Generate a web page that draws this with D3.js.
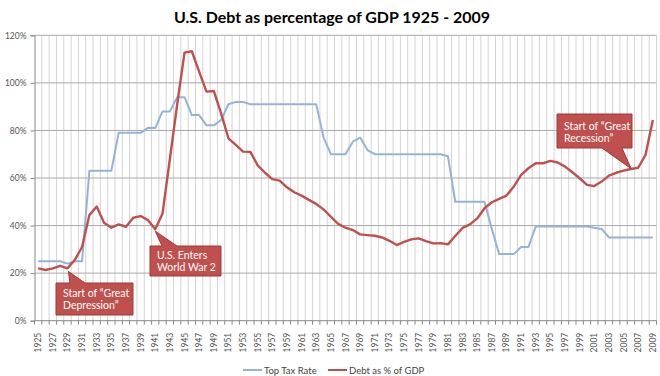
<!DOCTYPE html>
<html>
<head>
<meta charset="utf-8">
<script src="https://cdn.jsdelivr.net/npm/d3@7"></script>
<style>
  html, body { margin: 0; padding: 0; background: #fff; }
  svg { display: block; }
</style>
</head>
<body>
<svg id="chart" width="660" height="376"></svg>
<script>
const years = d3.range(1925, 2010);
const taxRate = [
  25, 25, 25, 25, 24, 25, 25,
  63, 63, 63, 63,
  79, 79, 79, 79,
  81.1, 81, 88, 88, 94, 94, 86.45, 86.45, 82.13, 82.13, 84.36,
  91, 92, 92,
  91, 91, 91, 91, 91, 91, 91, 91, 91, 91,
  77, 70, 70, 70, 75.25, 77, 71.75,
  70, 70, 70, 70, 70, 70, 70, 70, 70, 70,
  69.13,
  50, 50, 50, 50, 50,
  38.5, 28, 28, 28, 31, 31,
  39.6, 39.6, 39.6, 39.6, 39.6, 39.6, 39.6, 39.6,
  39.1, 38.6,
  35, 35, 35, 35, 35, 35, 35
];
const debt = [
  22.0, 21.3, 22.0, 23.1, 22.0, 25.5, 31.0, 44.4, 48.0, 41.2,
  39.1, 40.5, 39.5, 43.3, 44.0, 42.3, 38.5, 45.1, 68.0, 91.0,
  112.7, 113.3, 104.7, 96.3, 96.6, 87.2, 76.7, 73.9, 71.1, 71.0,
  65.3, 62.2, 59.5, 58.9, 56.1, 54.0, 52.6, 50.8, 49.1, 46.8,
  43.7, 40.7, 39.1, 38.1, 36.3, 36.0, 35.7, 35.0, 33.6, 31.8,
  33.1, 34.2, 34.6, 33.5, 32.5, 32.6, 32.1, 35.6, 39.0, 40.5,
  43.0, 47.3, 49.8, 51.2, 52.6, 56.4, 61.3, 64.1, 66.2, 66.2,
  67.2, 66.5, 64.8, 62.4, 59.9, 57.1, 56.6, 58.5, 61.0, 62.2,
  63.1, 63.8, 64.3, 69.7, 84.4
];
const yTicks = [0, 20, 40, 60, 80, 100, 120];
const seriesNames = ["Top Tax Rate", "Debt as % of GDP"];
const titleText = "U.S. Debt as percentage of GDP 1925 - 2009";
const annotations = [
  { year: 1929, lines: ["Start of \u201cGreat", "Depression\u201d"] },
  { year: 1941, lines: ["U.S. Enters", "World War 2"] },
  { year: 2007, lines: ["Start of \u201cGreat", "Recession\u201d"] }
];

(function () {
const svg = d3.select("#chart");
const pLeft = 34.5, pRight = 656.5, pTop = 35.3, pBottom = 320.7;

const x = d3.scaleBand().domain(years).range([pLeft, pRight]).padding(0);
const y = d3.scaleLinear().domain([0, 120]).range([pBottom, pTop]);
const cx = yr => x(yr) + x.bandwidth() / 2;

const g = svg.append("g");
const bounds = years.map(yr => x(yr)).concat([pRight]);
g.selectAll("line.vg").data(bounds.slice(1)).join("line")
  .attr("x1", d => d).attr("x2", d => d)
  .attr("y1", pTop).attr("y2", pBottom)
  .attr("stroke", "#d4d4d4").attr("stroke-width", 1);

g.selectAll("line.hg").data(yTicks.slice(1)).join("line")
  .attr("x1", pLeft).attr("x2", pRight)
  .attr("y1", d => y(d)).attr("y2", d => y(d))
  .attr("stroke", "#a8a8a8").attr("stroke-width", 1);

const yAxis = d3.axisLeft(y).tickValues(yTicks).tickFormat(d => d + "%").tickSize(4).tickPadding(4);
const ya = svg.append("g").attr("transform", `translate(${pLeft},0)`).call(yAxis);
ya.select(".domain").attr("stroke", "#888");
ya.selectAll(".tick line").attr("stroke", "#888");
ya.selectAll("text").attr("font-family", "Lato, 'DejaVu Sans', sans-serif").attr("font-size", 8.5).attr("fill", "#555");

const xa = svg.append("g").attr("transform", `translate(0,${pBottom})`);
xa.append("line").attr("x1", pLeft).attr("x2", pRight).attr("y1", 0).attr("y2", 0).attr("stroke", "#888");
xa.selectAll("line.t").data(bounds).join("line")
  .attr("x1", d => d).attr("x2", d => d).attr("y1", 0).attr("y2", 4)
  .attr("stroke", "#888");
xa.selectAll("text").data(years.filter(yr => (yr - 1925) % 2 === 0)).join("text")
  .attr("transform", yr => `translate(${cx(yr)},${12}) rotate(-90)`)
  .attr("text-anchor", "end").attr("dominant-baseline", "central")
  .attr("font-family", "Lato, 'DejaVu Sans', sans-serif").attr("font-size", 8.5).attr("fill", "#555")
  .text(yr => yr);

const lineGen = d3.line().x((d, i) => cx(years[i])).y(d => y(d));
svg.append("path").datum(taxRate).attr("d", lineGen)
  .attr("fill", "none").attr("stroke", "#95b3d7").attr("stroke-width", 2).attr("stroke-linejoin", "round");
svg.append("path").datum(debt).attr("d", lineGen)
  .attr("fill", "none").attr("stroke", "#c0504d").attr("stroke-width", 2.4).attr("stroke-linejoin", "round");

function callout(box, tip, base, lines, textX, baselines) {
  const [x0, y0, x1, y1] = box;
  let p;
  if (base.side === "top") {
    p = `M${x0},${y0} L${base.a},${y0} L${tip[0]},${tip[1]} L${base.b},${y0} L${x1},${y0} L${x1},${y1} L${x0},${y1} Z`;
  } else {
    p = `M${x0},${y0} L${x1},${y0} L${x1},${y1} L${base.b},${y1} L${tip[0]},${tip[1]} L${base.a},${y1} L${x0},${y1} Z`;
  }
  svg.append("path").attr("d", p).attr("fill", "#c0504d").attr("stroke", "#9b3b38").attr("stroke-width", 1);
  lines.forEach((t, i) => {
    svg.append("text").attr("x", textX).attr("y", baselines[i])
      .attr("font-family", "Lato, 'DejaVu Sans', sans-serif").attr("font-size", 10.5).attr("fill", "#fff")
      .text(t);
  });
}
const a0 = annotations[0], a1 = annotations[1], a2 = annotations[2];
callout([56, 283, 133, 315], [cx(a0.year) + 1, y(debt[a0.year - 1925]) + 3], { side: "top", a: 70, b: 85 }, a0.lines, 63, [296.5, 309]);
callout([150, 246, 221, 276], [cx(a1.year), y(debt[a1.year - 1925]) + 2], { side: "top", a: 162, b: 177 }, a1.lines, 157, [258.5, 271]);
callout([557, 114, 632, 148], [cx(a2.year) - 7, y(debt[a2.year - 1925]) + 1], { side: "bottom", a: 602, b: 622 }, a2.lines, 564, [129.5, 141.5]);

svg.append("text").attr("x", 332).attr("y", 23)
  .attr("text-anchor", "middle")
  .attr("font-family", "Lato, 'Open Sans', sans-serif").attr("font-size", 16).attr("font-weight", "bold")
  .attr("fill", "#000")
  .attr("textLength", 316).attr("lengthAdjust", "spacingAndGlyphs")
  .text(titleText);

const leg = svg.append("g");
const legItems = [
  { name: seriesNames[0], color: "#95b3d7", x: 243 },
  { name: seriesNames[1], color: "#c0504d", x: 328 }
];
legItems.forEach(it => {
  leg.append("line").attr("x1", it.x).attr("x2", it.x + 19).attr("y1", 370).attr("y2", 370)
    .attr("stroke", it.color).attr("stroke-width", 2);
  leg.append("text").attr("x", it.x + 21).attr("y", 370).attr("dominant-baseline", "central")
    .attr("font-family", "Lato, 'DejaVu Sans', sans-serif").attr("font-size", 9.5).attr("fill", "#444")
    .text(it.name);
});
})();
</script>
</body>
</html>
